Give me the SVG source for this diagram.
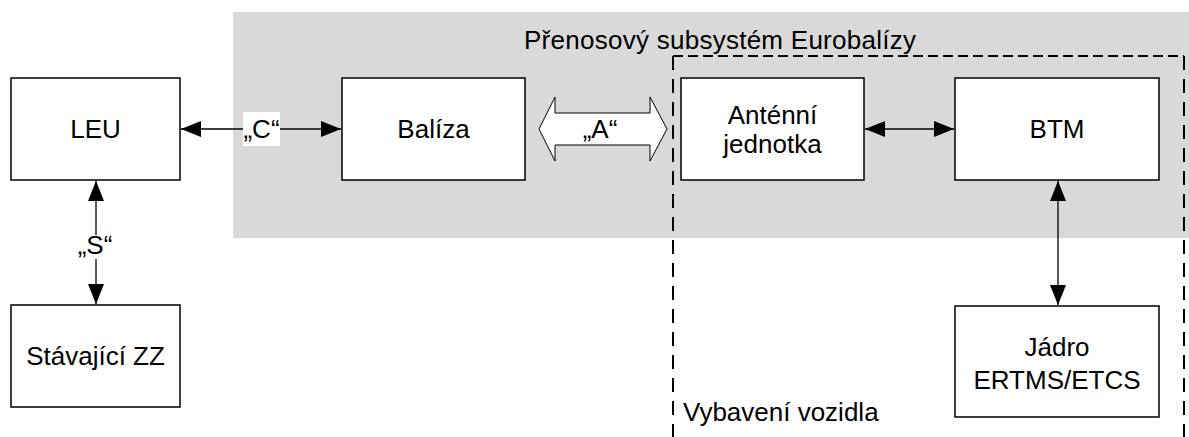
<svg xmlns="http://www.w3.org/2000/svg" width="1189" height="437" viewBox="0 0 1189 437">
  <defs>
    <marker id="ah" viewBox="0 0 20 16" refX="20" refY="8" markerWidth="20" markerHeight="16" markerUnits="userSpaceOnUse" orient="auto-start-reverse">
      <path d="M0,0 L20,8 L0,16 Z" fill="#000"/>
    </marker>
  </defs>
  <style>
    text { font-family: "Liberation Sans", Arial, sans-serif; font-size: 26px; fill: #000; }
    .box { fill: #fff; stroke: #000; stroke-width: 1.5; }
    .conn { stroke: #000; stroke-width: 1.3; fill: none; }
    .mid { text-anchor: middle; }
    .dashh { fill: none; stroke: #000; stroke-width: 2; stroke-dasharray: 10,5; }
    .dashv { fill: none; stroke: #000; stroke-width: 2; stroke-dasharray: 14,9; }
  </style>

  <!-- Eurobalise transmission subsystem area -->
  <g id="subsystem">
    <rect x="233" y="12" width="956" height="226" fill="#d9d9d9"/>
    <text x="720" y="49" class="mid" textLength="392">Přenosový subsystém Eurobalízy</text>
  </g>

  <!-- On-board equipment boundary -->
  <g id="onboard">
    <path class="dashh" d="M673,56 L1184,56"/>
    <path class="dashv" d="M673,56 L673,437"/>
    <path class="dashv" d="M1184,56 L1184,437"/>
    <text x="683" y="421">Vybavení vozidla</text>
  </g>

  <g id="leu">
    <rect class="box" x="11" y="78" width="169" height="102"/>
    <text x="95.5" y="138" class="mid">LEU</text>
  </g>

  <g id="baliza">
    <rect class="box" x="342" y="78" width="183" height="102"/>
    <text x="433.5" y="138" class="mid">Balíza</text>
  </g>

  <g id="antenna">
    <rect class="box" x="681" y="78" width="183" height="102"/>
    <text x="772.5" y="124" class="mid">Anténní</text>
    <text x="772.5" y="153" class="mid">jednotka</text>
  </g>

  <g id="btm">
    <rect class="box" x="955" y="78" width="204" height="102"/>
    <text x="1057" y="138" class="mid">BTM</text>
  </g>

  <g id="interlocking">
    <rect class="box" x="11" y="305" width="169" height="102"/>
    <text x="95.5" y="365" class="mid">Stávající ZZ</text>
  </g>

  <g id="etcs-core">
    <rect class="box" x="955" y="306" width="204" height="111"/>
    <text x="1057" y="356" class="mid">Jádro</text>
    <text x="1057" y="389" class="mid">ERTMS/ETCS</text>
  </g>

  <g id="connectors">
    <!-- interface C -->
    <line class="conn" x1="181" y1="129" x2="341" y2="129" marker-start="url(#ah)" marker-end="url(#ah)"/>
    <rect x="243" y="112" width="37" height="34" fill="#fff"/>
    <text x="261.5" y="138" class="mid">„C“</text>

    <!-- interface A (air gap) -->
    <path d="M539,129 L555,97 L555,113 L650,113 L650,97 L667,129 L650,161 L650,145 L555,145 L555,161 Z" fill="#fff" stroke="#000" stroke-width="1"/>
    <text x="600" y="138" class="mid">„A“</text>

    <!-- interface S -->
    <line class="conn" x1="96" y1="181" x2="96" y2="235" marker-start="url(#ah)"/>
    <line class="conn" x1="96" y1="259" x2="96" y2="304" marker-end="url(#ah)"/>
    <text x="95" y="254" class="mid">„S“</text>

    <!-- antenna to BTM -->
    <line class="conn" x1="865" y1="129" x2="954" y2="129" marker-start="url(#ah)" marker-end="url(#ah)"/>

    <!-- BTM to ETCS core -->
    <line class="conn" x1="1058" y1="181" x2="1058" y2="305" marker-start="url(#ah)" marker-end="url(#ah)"/>
  </g>
</svg>
